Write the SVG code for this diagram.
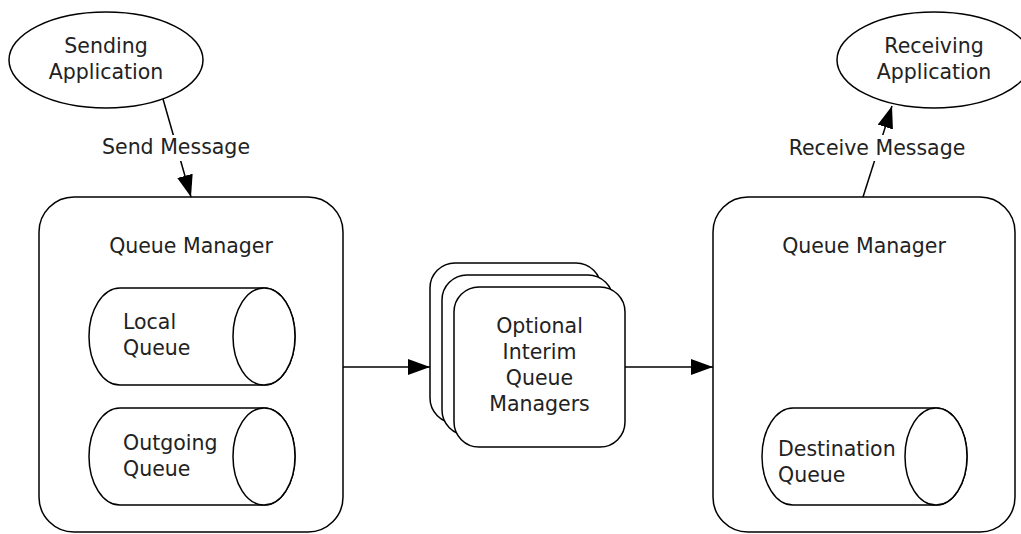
<svg xmlns="http://www.w3.org/2000/svg" width="1021" height="534" viewBox="0 0 1021 534">
<style>
.s{fill:#fff;stroke:#000;stroke-width:1.5}
.t{font-family:"DejaVu Sans",Verdana,sans-serif;font-size:20.5px;fill:#222}
.m{text-anchor:middle}
.c{stroke:#000;stroke-width:1.5;fill:none}
</style>
<defs>
<marker id="ah" markerUnits="userSpaceOnUse" markerWidth="24" markerHeight="18" refX="22" refY="8" orient="auto"><path d="M0,0 L22,8 L0,16 Z" fill="#000"/></marker>
</defs>
<rect width="1021" height="534" fill="#fff"/>
<g id="sending-app">
<ellipse class="s" cx="106" cy="60" rx="97" ry="48"/>
<text class="t m" x="106" y="53">Sending</text>
<text class="t m" x="106" y="79">Application</text>
</g>
<g id="receiving-app">
<ellipse class="s" cx="934" cy="60" rx="97" ry="48"/>
<text class="t m" x="934" y="53">Receiving</text>
<text class="t m" x="934" y="79">Application</text>
</g>
<g id="qm-left">
<rect class="s" x="39" y="197" width="304" height="335" rx="35"/>
<text class="t m" x="191" y="253">Queue Manager</text>
</g>
<g id="local-queue">
<path class="s" d="M120,288 L264,288 A31,48.5 0 0 1 264,385 L120,385 A31,48.5 0 0 1 120,288 Z"/>
<ellipse class="s" cx="264" cy="336.5" rx="31" ry="48.5"/>
<text class="t" x="123" y="329">Local</text>
<text class="t" x="123" y="355">Queue</text>
</g>
<g id="outgoing-queue">
<path class="s" d="M120,408 L264,408 A31,48.5 0 0 1 264,505 L120,505 A31,48.5 0 0 1 120,408 Z"/>
<ellipse class="s" cx="264" cy="456.5" rx="31" ry="48.5"/>
<text class="t" x="123" y="450">Outgoing</text>
<text class="t" x="123" y="476">Queue</text>
</g>
<g id="interim-qm">
<rect class="s" x="430" y="263" width="171" height="160" rx="25"/>
<rect class="s" x="442" y="275" width="171" height="160" rx="25"/>
<rect class="s" x="454" y="287" width="171" height="160" rx="25"/>
<text class="t m" x="539.5" y="333">Optional</text>
<text class="t m" x="539.5" y="359">Interim</text>
<text class="t m" x="539.5" y="385">Queue</text>
<text class="t m" x="539.5" y="411">Managers</text>
</g>
<g id="qm-right">
<rect class="s" x="713" y="197" width="302" height="335" rx="35"/>
<text class="t m" x="864" y="253">Queue Manager</text>
</g>
<g id="destination-queue">
<path class="s" d="M793,408 L936,408 A31,48.5 0 0 1 936,505 L793,505 A31,48.5 0 0 1 793,408 Z"/>
<ellipse class="s" cx="936" cy="456.5" rx="31" ry="48.5"/>
<text class="t" x="778" y="456">Destination</text>
<text class="t" x="778" y="482">Queue</text>
</g>
<g id="connectors">
<line class="c" x1="163" y1="99" x2="191" y2="197" marker-end="url(#ah)"/>
<rect x="98" y="135" width="156" height="26" fill="#fff"/>
<text class="t m" x="176" y="154">Send Message</text>
<line class="c" x1="863" y1="197" x2="892" y2="106" marker-end="url(#ah)"/>
<rect x="785" y="135" width="184" height="26" fill="#fff"/>
<text class="t m" x="877" y="155">Receive Message</text>
<line class="c" x1="343" y1="367" x2="430" y2="367" marker-end="url(#ah)"/>
<line class="c" x1="625" y1="367" x2="713" y2="367" marker-end="url(#ah)"/>
</g>
</svg>
